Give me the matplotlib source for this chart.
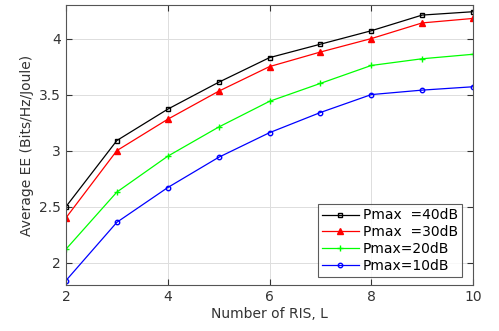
import matplotlib
matplotlib.use("Agg")
import matplotlib.pyplot as plt

L = [2, 3, 4, 5, 6, 7, 8, 9, 10]
ee_40 = [2.50, 3.09, 3.37, 3.61, 3.83, 3.95, 4.07, 4.21, 4.24]
ee_30 = [2.40, 3.00, 3.28, 3.53, 3.75, 3.88, 4.00, 4.14, 4.18]
ee_20 = [2.12, 2.63, 2.95, 3.21, 3.44, 3.60, 3.76, 3.82, 3.86]
ee_10 = [1.84, 2.36, 2.67, 2.94, 3.16, 3.34, 3.50, 3.54, 3.57]
labels = ["Pmax  =40dB", "Pmax  =30dB", "Pmax=20dB", "Pmax=10dB"]

fig = plt.figure(figsize=(4.99, 3.31), dpi=100)
ax = fig.add_axes([66/499, 1-285/331, (473-66)/499, (285-5)/331])

ax.plot(L, ee_40, color="black", marker="s", ms=3.2, mfc="none", lw=0.9, label=labels[0])
ax.plot(L, ee_30, color="red", marker="^", ms=3.8, mfc="red", lw=0.9, label=labels[1])
ax.plot(L, ee_20, color="#00ff00", marker="+", ms=4, lw=0.9, label=labels[2])
ax.plot(L, ee_10, color="blue", marker="o", ms=3.2, mfc="none", lw=0.9, label=labels[3])

ax.set_xlim(2, 10)
ax.set_ylim(1.8, 4.3)
ax.set_xticks([2, 4, 6, 8, 10])
ax.set_yticks([2, 2.5, 3, 3.5, 4])
ax.set_yticklabels(["2", "2.5", "3", "3.5", "4"])
ax.grid(True, color="#dddddd", lw=0.7)
ax.set_axisbelow(True)
ax.tick_params(direction="in", length=4, labelsize=10, colors="#333333", top=True, right=True, labeltop=False, labelright=False)
for s in ax.spines.values():
    s.set_color("#555555")
    s.set_linewidth(0.8)
ax.set_xlabel("Number of RIS, L", fontsize=10, color="#333333", labelpad=2)
ax.set_ylabel("Average EE (Bits/Hz/Joule)", fontsize=10, color="#333333", labelpad=4)

leg = ax.legend(loc="lower right", fontsize=10, frameon=True, fancybox=False, edgecolor="#333333",
                borderpad=0.3, labelspacing=0.2, handlelength=2.6, handletextpad=0.3,
                borderaxespad=0, bbox_to_anchor=(0.973, 0.029))
leg.get_frame().set_linewidth(0.8)

fig.savefig("out.png", dpi=100)
